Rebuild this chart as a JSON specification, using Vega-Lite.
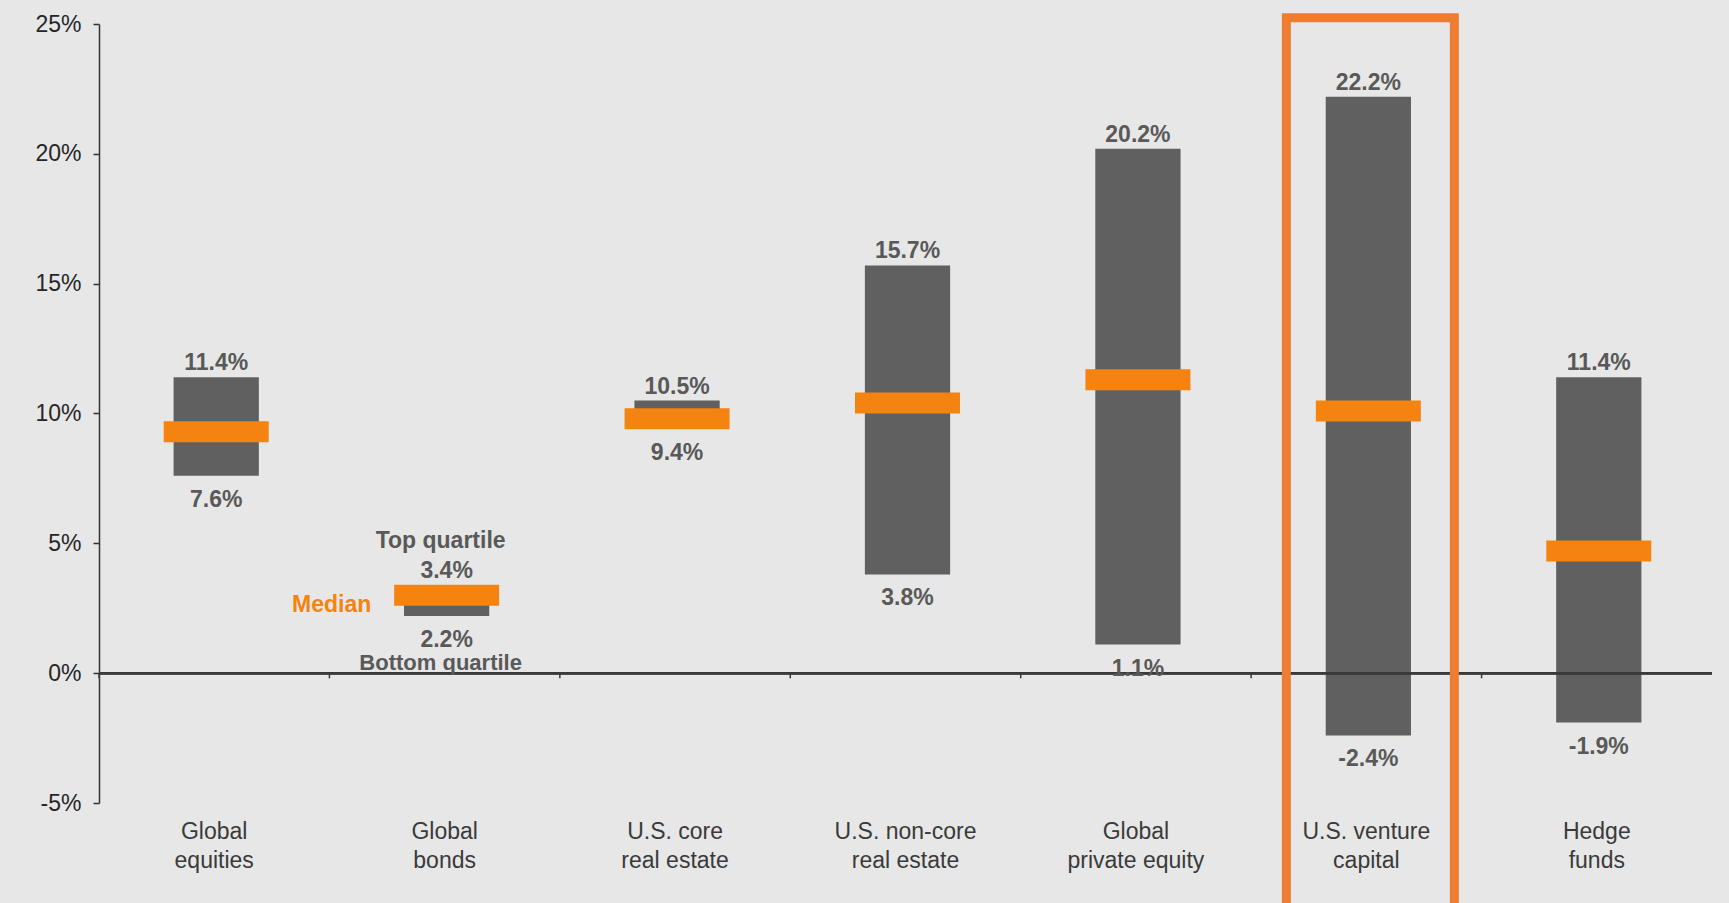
{
  "$schema": "https://vega.github.io/schema/vega-lite/v6.json",
  "width": 1613,
  "height": 779,
  "autosize": {"type": "none"},
  "padding": {"left": 99, "top": 24, "right": 17, "bottom": 100},
  "background": "#e7e7e7",
  "config": {
    "view": {"stroke": null},
    "font": "Liberation Sans",
    "locale": {"number": {"decimal": ".", "thousands": ",", "grouping": [3], "currency": ["$", ""], "minus": "-"}}
  },
  "data": {
    "values": [
      {"category": "Global|equities", "bottom": 0.076, "top": 0.114, "median": 0.093},
      {"category": "Global|bonds", "bottom": 0.022, "top": 0.034, "median": 0.030},
      {"category": "U.S. core|real estate", "bottom": 0.094, "top": 0.105, "median": 0.098},
      {"category": "U.S. non-core|real estate", "bottom": 0.038, "top": 0.157, "median": 0.104},
      {"category": "Global|private equity", "bottom": 0.011, "top": 0.202, "median": 0.113},
      {"category": "U.S. venture|capital", "bottom": -0.024, "top": 0.222, "median": 0.101},
      {"category": "Hedge|funds", "bottom": -0.019, "top": 0.114, "median": 0.047}
    ]
  },
  "layer": [
    {
      "mark": {"type": "bar", "color": "#606060", "width": {"band": 0.37}, "xOffset": 2},
      "encoding": {
        "x": {"field": "category", "type": "nominal", "sort": null, "title": null,
          "scale": {"domain": ["Global|equities", "Global|bonds", "U.S. core|real estate", "U.S. non-core|real estate", "Global|private equity", "U.S. venture|capital", "Hedge|funds"], "paddingInner": 0, "paddingOuter": 0},
          "axis": {"title": null, "domain": false, "ticks": false, "labelAngle": 0, "labelExpr": "split(datum.label, '|')", "labelFontSize": 23, "labelLineHeight": 29, "labelColor": "#3a3a3a", "labelPadding": 17, "labelLimit": 400}},
        "y": {"field": "bottom", "type": "quantitative", "title": null,
          "scale": {"domain": [-0.05, 0.25], "nice": false, "zero": false},
          "axis": {"title": null, "values": [-0.05, 0, 0.05, 0.1, 0.15, 0.2, 0.25], "format": ".0%", "grid": false, "domainColor": "#333333", "domainWidth": 1.5, "tickColor": "#333333", "tickWidth": 1.5, "tickSize": 6, "labelFontSize": 23, "labelColor": "#262626", "labelPadding": 12}},
        "y2": {"field": "top"}
      }
    },
    {
      "mark": {"type": "rule", "color": "#3a3a3a", "strokeWidth": 2},
      "encoding": {
        "y": {"datum": 0, "type": "quantitative", "scale": {"domain": [-0.05, 0.25], "nice": false, "zero": false}}
      }
    },
    {
      "mark": {"type": "rule", "color": "#3a3a3a", "strokeWidth": 1.5},
      "encoding": {
        "x": {"field": "category", "type": "nominal", "sort": null, "bandPosition": 0, "title": null,
          "scale": {"domain": ["Global|equities", "Global|bonds", "U.S. core|real estate", "U.S. non-core|real estate", "Global|private equity", "U.S. venture|capital", "Hedge|funds"], "paddingInner": 0, "paddingOuter": 0}},
        "y": {"datum": 0, "type": "quantitative", "scale": {"domain": [-0.05, 0.25], "nice": false, "zero": false}},
        "y2": {"datum": -0.002}
      }
    },
    {
      "mark": {"type": "tick", "color": "#F5830F", "size": 105, "thickness": 21, "opacity": 1, "xOffset": 2},
      "encoding": {
        "x": {"field": "category", "type": "nominal", "sort": null, "title": null,
          "scale": {"domain": ["Global|equities", "Global|bonds", "U.S. core|real estate", "U.S. non-core|real estate", "Global|private equity", "U.S. venture|capital", "Hedge|funds"], "paddingInner": 0, "paddingOuter": 0}},
        "y": {"field": "median", "type": "quantitative", "title": null, "scale": {"domain": [-0.05, 0.25], "nice": false, "zero": false}}
      }
    },
    {
      "mark": {"type": "text", "fontWeight": "bold", "fontSize": 23, "color": "#595959", "baseline": "middle", "dy": -14, "dx": 2},
      "encoding": {
        "x": {"field": "category", "type": "nominal", "sort": null, "title": null,
          "scale": {"domain": ["Global|equities", "Global|bonds", "U.S. core|real estate", "U.S. non-core|real estate", "Global|private equity", "U.S. venture|capital", "Hedge|funds"], "paddingInner": 0, "paddingOuter": 0}},
        "y": {"field": "top", "type": "quantitative", "title": null, "scale": {"domain": [-0.05, 0.25], "nice": false, "zero": false}},
        "text": {"field": "top", "type": "quantitative", "format": ".1%"}
      }
    },
    {
      "mark": {"type": "text", "fontWeight": "bold", "fontSize": 23, "color": "#595959", "baseline": "middle", "dy": 24, "dx": 2},
      "encoding": {
        "x": {"field": "category", "type": "nominal", "sort": null, "title": null,
          "scale": {"domain": ["Global|equities", "Global|bonds", "U.S. core|real estate", "U.S. non-core|real estate", "Global|private equity", "U.S. venture|capital", "Hedge|funds"], "paddingInner": 0, "paddingOuter": 0}},
        "y": {"field": "bottom", "type": "quantitative", "title": null, "scale": {"domain": [-0.05, 0.25], "nice": false, "zero": false}},
        "text": {"field": "bottom", "type": "quantitative", "format": ".1%"}
      }
    },
    {
      "transform": [{"filter": "datum.category == 'Global|bonds'"}],
      "mark": {"type": "text", "fontWeight": "bold", "fontSize": 23, "color": "#595959", "baseline": "middle", "dx": -4, "text": "Top quartile"},
      "encoding": {
        "x": {"field": "category", "type": "nominal", "sort": null, "title": null,
          "scale": {"domain": ["Global|equities", "Global|bonds", "U.S. core|real estate", "U.S. non-core|real estate", "Global|private equity", "U.S. venture|capital", "Hedge|funds"], "paddingInner": 0, "paddingOuter": 0}},
        "y": {"datum": 0.051, "type": "quantitative", "scale": {"domain": [-0.05, 0.25], "nice": false, "zero": false}}
      }
    },
    {
      "transform": [{"filter": "datum.category == 'Global|bonds'"}],
      "mark": {"type": "text", "fontWeight": "bold", "fontSize": 22, "color": "#595959", "baseline": "middle", "dx": -4, "text": "Bottom quartile"},
      "encoding": {
        "x": {"field": "category", "type": "nominal", "sort": null, "title": null,
          "scale": {"domain": ["Global|equities", "Global|bonds", "U.S. core|real estate", "U.S. non-core|real estate", "Global|private equity", "U.S. venture|capital", "Hedge|funds"], "paddingInner": 0, "paddingOuter": 0}},
        "y": {"datum": 0.0038, "type": "quantitative", "scale": {"domain": [-0.05, 0.25], "nice": false, "zero": false}}
      }
    },
    {
      "transform": [{"filter": "datum.category == 'Global|bonds'"}],
      "mark": {"type": "text", "fontWeight": "bold", "fontSize": 23, "color": "#F5830F", "baseline": "middle", "dx": -113, "text": "Median"},
      "encoding": {
        "x": {"field": "category", "type": "nominal", "sort": null, "title": null,
          "scale": {"domain": ["Global|equities", "Global|bonds", "U.S. core|real estate", "U.S. non-core|real estate", "Global|private equity", "U.S. venture|capital", "Hedge|funds"], "paddingInner": 0, "paddingOuter": 0}},
        "y": {"datum": 0.0264, "type": "quantitative", "scale": {"domain": [-0.05, 0.25], "nice": false, "zero": false}}
      }
    },
    {
      "transform": [{"filter": "datum.category == 'U.S. venture|capital'"}],
      "mark": {"type": "bar", "width": 168, "fillOpacity": 0, "stroke": "#ED7D31", "strokeWidth": 9, "xOffset": 4},
      "encoding": {
        "x": {"field": "category", "type": "nominal", "sort": null, "title": null,
          "scale": {"domain": ["Global|equities", "Global|bonds", "U.S. core|real estate", "U.S. non-core|real estate", "Global|private equity", "U.S. venture|capital", "Hedge|funds"], "paddingInner": 0, "paddingOuter": 0}},
        "y": {"datum": 0.2524, "type": "quantitative", "scale": {"domain": [-0.05, 0.25], "nice": false, "zero": false}},
        "y2": {"datum": -0.1}
      }
    }
  ]
}
